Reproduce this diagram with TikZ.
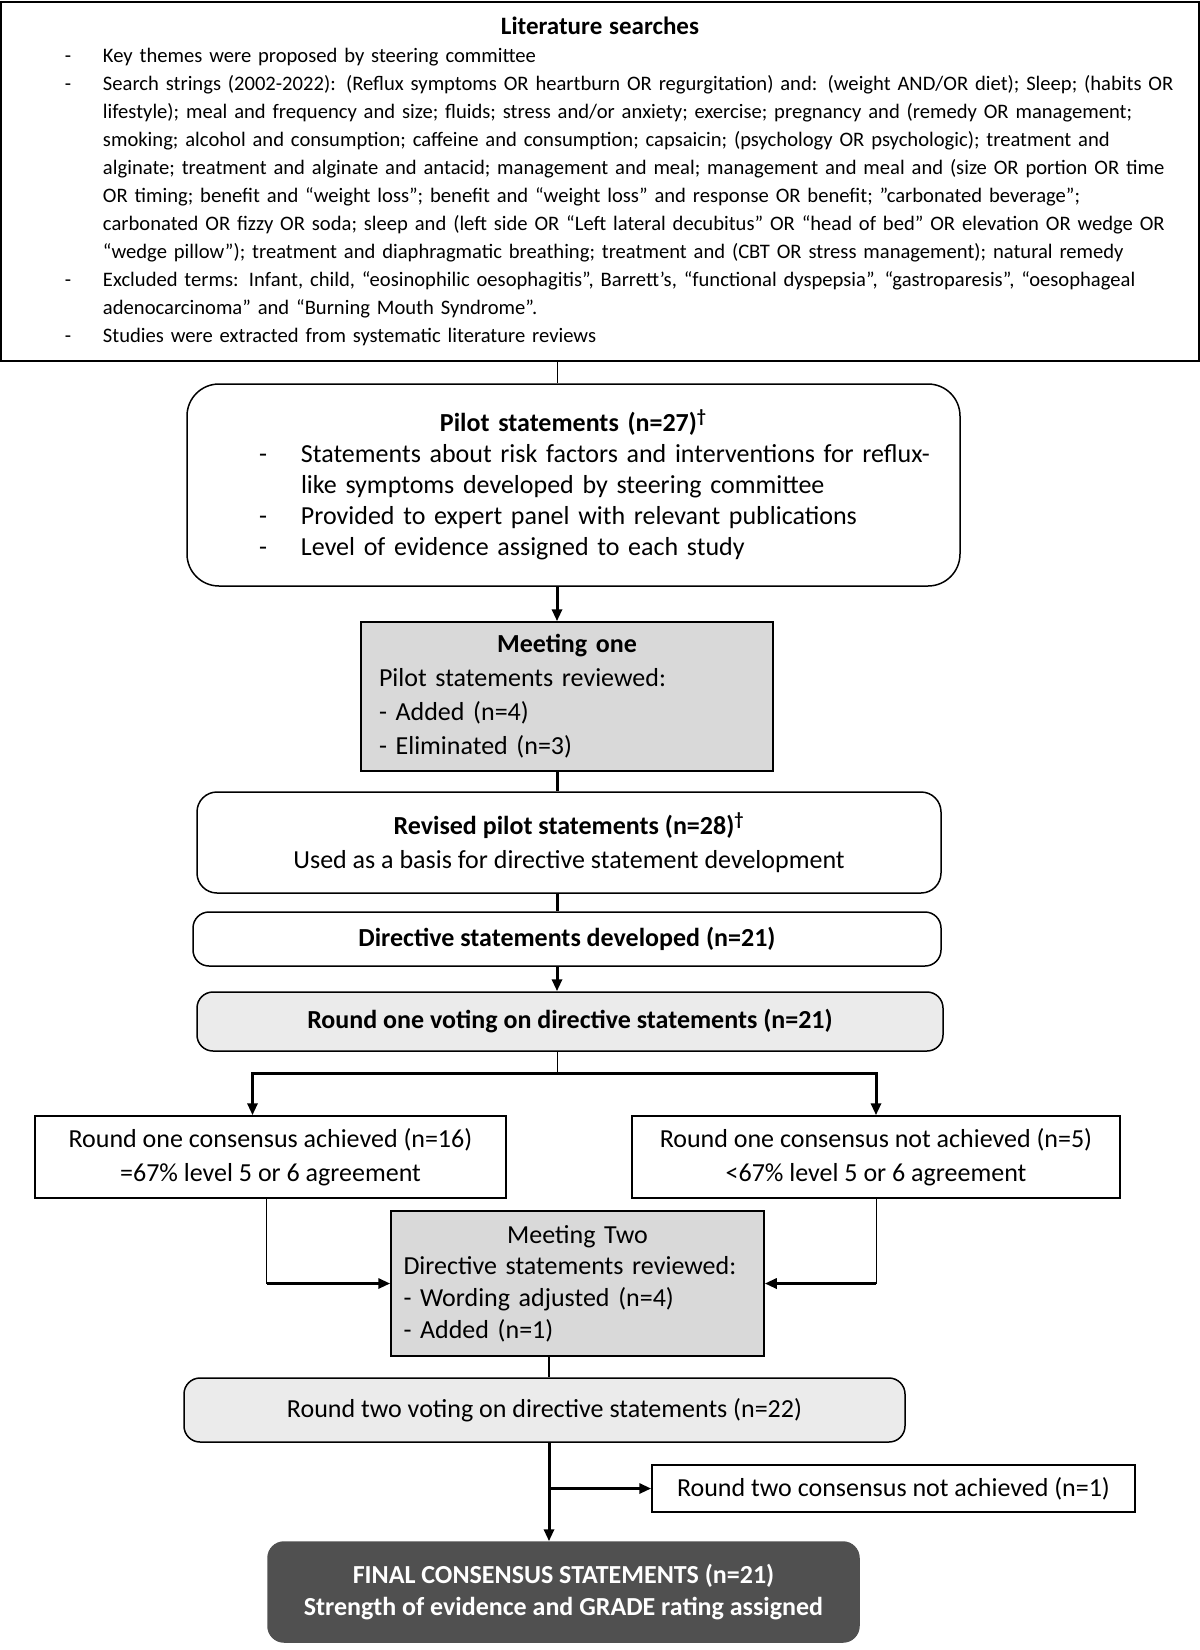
\documentclass[tikz,border=0pt]{standalone}
\usepackage{fontspec}
\setmainfont{Carlito}
\usetikzlibrary{arrows.meta, positioning, calc}

\definecolor{meetgray}{RGB}{217,217,217}
\definecolor{votegray}{RGB}{235,235,235}
\definecolor{finalgray}{RGB}{80,80,80}

\newlength{\dashgap}
\newcommand{\dashitem}[1]{\par\hangindent=\dashgap\hangafter=1\noindent\makebox[\dashgap][l]{-}#1}

\begin{document}
\begin{tikzpicture}[
    x=0.5pt, y=-0.5pt,
    box/.style={draw, line width=0.75pt, inner sep=0pt, align=center,
      font=\fontsize{13}{17}\selectfont},
    rbox/.style={box, rounded corners=8pt},
    arr/.style={-{Triangle[length=6pt, width=5pt]}, line width=1.5pt},
    bar/.style={line width=1.5pt},
    thinln/.style={line width=0.5pt}
  ]
  \useasboundingbox (0,0) rectangle (1200,1650);

  % literature box
  \node[box, line width=1pt, minimum width=599pt, minimum height=179.5pt,
        text width=590pt, align=left, font=\fontsize{10.3}{14}\selectfont] (lit) at (600,181.5) {
    {\centering\fontsize{12.5}{17}\selectfont\bfseries Literature searches\par}
    \setlength{\dashgap}{19pt}\leftskip=27.5pt
    \dashitem{Key themes were proposed by steering committee}
    \dashitem{Search strings (2002-2022): (Reflux symptoms OR heartburn OR regurgitation) and: (weight AND/OR diet); Sleep; (habits OR\newline
      lifestyle); meal and frequency and size; fluids; stress and/or anxiety; exercise; pregnancy and (remedy OR management;\newline
      smoking; alcohol and consumption; caffeine and consumption; capsaicin; (psychology OR psychologic); treatment and\newline
      alginate; treatment and alginate and antacid; management and meal; management and meal and (size OR portion OR time\newline
      OR timing; benefit and “weight loss”; benefit and “weight loss” and response OR benefit; ”carbonated beverage”;\newline
      carbonated OR fizzy OR soda; sleep and (left side OR “Left lateral decubitus” OR “head of bed” OR elevation OR wedge OR\newline
      “wedge pillow”); treatment and diaphragmatic breathing; treatment and (CBT OR stress management); natural remedy}
    \dashitem{Excluded terms: Infant, child, “eosinophilic oesophagitis”, Barrett’s, “functional dyspepsia”, “gastroparesis”, “oesophageal\newline
      adenocarcinoma” and “Burning Mouth Syndrome”.}
    \dashitem{Studies were extracted from systematic literature reviews}\par
  };

  % first round of statements
  \node[rbox, rounded corners=16pt, minimum width=386.5pt, minimum height=101pt,
        text width=360pt, align=left, font=\fontsize{13}{15.6}\selectfont] (pilot) at (573.5,485) {
    {\centering\bfseries Pilot statements (n=27)\textsuperscript{†}\par}
    \setlength{\dashgap}{21pt}\leftskip=22.75pt
    \dashitem{Statements about risk factors and interventions for reflux-\newline like symptoms developed by steering committee}
    \dashitem{Provided to expert panel with relevant publications}
    \dashitem{Level of evidence assigned to each study}\par
  };
  \node[box, fill=meetgray, minimum width=206pt, minimum height=74.5pt,
        text width=188pt, align=left] (meet1) at (567,696.5) {
    {\centering\bfseries Meeting one\par}
    Pilot statements reviewed:\\
    - Added (n=4)\\
    - Eliminated (n=3)
  };
  \node[rbox, rounded corners=10pt, minimum width=372pt, minimum height=50.5pt] (revised) at (569,842.5) {
    \textbf{Revised pilot statements (n=28)\textsuperscript{†}}\\
    Used as a basis for directive statement development
  };
  \node[rbox, minimum width=374pt, minimum height=27pt] (directive) at (567,939)
    {\textbf{Directive statements developed (n=21)}};
  \node[rbox, fill=votegray, minimum width=373pt, minimum height=29.5pt] (vote1) at (570,1021.5)
    {\textbf{Round one voting on directive statements (n=21)}};

  % round one outcome
  \node[box, minimum width=235.5pt, minimum height=41pt] (ach1) at (270.5,1157) {
    Round one consensus achieved (n=16)\\
    =67\% level 5 or 6 agreement
  };
  \node[box, minimum width=244pt, minimum height=41pt] (nach1) at (876,1157) {
    Round one consensus not achieved (n=5)\\
    <67\% level 5 or 6 agreement
  };
  \node[box, fill=meetgray, minimum width=186.5pt, minimum height=72.5pt,
        text width=174pt, align=left, font=\fontsize{13}{15.8}\selectfont] (meet2) at (577.5,1283.5) {
    {\centering Meeting Two\par}
    Directive statements reviewed:\\
    - Wording adjusted (n=4)\\
    - Added (n=1)
  };
  \node[rbox, fill=votegray, minimum width=360.5pt, minimum height=32pt] (vote2) at (544.5,1410)
    {Round two voting on directive statements (n=22)};
  \node[box, minimum width=241.5pt, minimum height=23.5pt] (nach2) at (893.5,1488.5)
    {Round two consensus not achieved (n=1)};
  \node[rbox, fill=finalgray, draw=finalgray, text=white, font=\fontsize{13}{16}\selectfont\bfseries,
        minimum width=295.5pt, minimum height=50pt] (final) at (563.5,1592) {
    FINAL CONSENSUS STATEMENTS (n=21)\\
    Strength of evidence and GRADE rating assigned
  };

  % connectors
  \coordinate (axis) at (557,0);
  \coordinate (axisb) at (549,0);
  \coordinate (split1) at (557,1073);
  \draw[thinln] (lit.south -| axis) -- (pilot.north -| axis);
  \draw[arr] (pilot.south -| axis) -- (meet1.north -| axis);
  \draw[bar] (meet1.south -| axis) -- (revised.north -| axis);
  \draw[bar] (revised.south -| axis) -- (directive.north -| axis);
  \draw[arr] (directive.south -| axis) -- (vote1.north -| axis);
  \draw[thinln] (vote1.south -| axis) -- (split1);
  \draw[arr] (split1) -| ([xshift=-9pt]ach1.north);
  \draw[arr] (split1) -| (nach1.north);
  \coordinate (achturn) at ([xshift=-2pt]ach1.south |- meet2.west);
  \coordinate (nachturn) at (nach1.south |- meet2.east);
  \draw[thinln] ([xshift=-2pt]ach1.south) -- (achturn);
  \draw[arr] (achturn) -- (meet2.west);
  \draw[thinln] (nach1.south) -- (nachturn);
  \draw[arr] (nachturn) -- (meet2.east);
  \draw[line width=1pt] (meet2.south -| axisb) -- (vote2.north -| axisb);
  \draw[arr] (vote2.south -| axisb) -- (final.north -| axisb);
  \draw[arr] (axisb |- nach2.west) -- (nach2.west);
\end{tikzpicture}
\end{document}
